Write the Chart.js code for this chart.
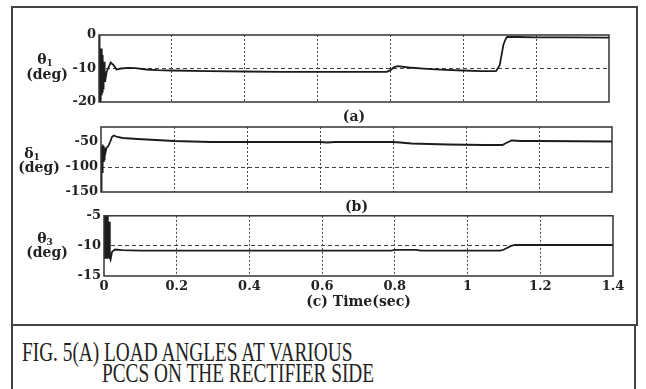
<!DOCTYPE html>
<html>
<head>
<meta charset="utf-8">
<script src="https://cdn.jsdelivr.net/npm/chart.js@4.4.0/dist/chart.umd.min.js"></script>
<style>
  body { margin: 0; background: #fff; }
  #wrap { position: relative; width: 646px; height: 389px; overflow: hidden; background: #fff; }
  .box { position: absolute; border: 2px solid #444; box-sizing: border-box; }
  canvas { position: absolute; left: 0; }
  .lab { position: absolute; width: 60px; text-align: center; font: bold 14px "DejaVu Serif", serif; line-height: 14px; color: #222; }
  .lab sub { font-size: 9px; vertical-align: -2px; }
  .cap { position: absolute; font: 27px "Liberation Serif", "Times New Roman", serif; line-height: 27px; color: #222;
         white-space: nowrap; transform-origin: 0 0; transform: scaleX(0.715); }
</style>
</head>
<body>
<div id="wrap">
  <div class="box" style="left:11px;top:6px;width:627px;height:320px"></div>
  <div class="box" style="left:11px;top:324px;width:625px;height:90px"></div>

  <canvas id="chartA" width="646" height="106" style="top:20px"></canvas>
  <canvas id="chartB" width="646" height="101" style="top:115px"></canvas>
  <canvas id="chartC" width="646" height="106" style="top:205px"></canvas>

  <div class="lab" style="left:15px;top:52px">θ<sub>1</sub></div>
  <div class="lab" style="left:17px;top:67px">(deg)</div>
  <div class="lab" style="left:2px;top:146px">δ<sub>1</sub></div>
  <div class="lab" style="left:9px;top:160px">(deg)</div>
  <div class="lab" style="left:15px;top:231px">θ<sub>3</sub></div>
  <div class="lab" style="left:17px;top:245px">(deg)</div>

  <div class="cap" style="left:22px;top:339px">FIG. 5(A) LOAD ANGLES AT VARIOUS</div>
  <div class="cap" style="left:102px;top:360px">PCCS ON THE RECTIFIER SIDE</div>
</div>

<script>
// time axis ticks (sec)
const xTicks = [0, 0.2, 0.4, 0.6, 0.8, 1.0, 1.2, 1.4];

// (a) theta1, deg
const timeA = [0, 0.001, 0.002, 0.003, 0.004, 0.005, 0.006, 0.007, 0.008, 0.009, 0.010, 0.011, 0.012, 0.013,
  0.014, 0.015, 0.016, 0.018, 0.021, 0.025, 0.032, 0.04, 0.048, 0.06, 0.08, 0.1, 0.13, 0.16, 0.2, 0.3, 0.4,
  0.5, 0.6, 0.7, 0.79, 0.8, 0.81, 0.82, 0.85, 0.9, 0.95, 1.0, 1.05, 1.09, 1.1, 1.105, 1.11, 1.115, 1.12,
  1.15, 1.2, 1.3, 1.4];
const theta1 = [0, -20, -3, -19, -5, -20, -4, -18, -7, -17, -6, -16, -9, -15, -8, -14, -12, -13, -11, -10,
  -8.2, -9.0, -10.3, -10.0, -9.8, -9.9, -10.3, -10.5, -10.6, -10.8, -10.9, -11.0, -11.0, -11.0, -11.0,
  -10.5, -9.6, -9.3, -9.7, -10.1, -10.4, -10.6, -10.8, -10.8, -9.0, -6.0, -3.0, -1.5, -0.6, -0.6, -0.7,
  -0.7, -0.8];
const yTicksA = [-20, -10, 0];

// (b) delta1, deg
const timeB = [0, 0.001, 0.002, 0.003, 0.004, 0.005, 0.006, 0.007, 0.008, 0.009, 0.010, 0.012, 0.015,
  0.02, 0.025, 0.03, 0.035, 0.045, 0.06, 0.08, 0.1, 0.15, 0.2, 0.25, 0.3, 0.5, 0.6, 0.62, 0.64, 0.8,
  0.82, 0.85, 0.9, 0.95, 1.0, 1.05, 1.1, 1.11, 1.125, 1.15, 1.2, 1.3, 1.4];
const delta1 = [-60, -150, -60, -110, -55, -95, -58, -90, -60, -85, -62, -72, -62, -58, -50, -40, -37,
  -40, -42, -43, -44, -46, -48, -49, -50, -50, -50, -51, -50, -50, -51, -53, -54, -55, -55.5, -56, -56,
  -52, -47, -48, -48, -48.5, -49];
const yTicksB = [-150, -100, -50];

// (c) theta3, deg
const timeC = [0, 0.001, 0.002, 0.003, 0.004, 0.005, 0.006, 0.007, 0.008, 0.009, 0.010, 0.011, 0.012,
  0.013, 0.014, 0.016, 0.018, 0.022, 0.03, 0.05, 0.1, 0.3, 0.5, 0.7, 0.79, 0.8, 0.82, 0.86, 0.87, 0.9,
  1.0, 1.09, 1.1, 1.12, 1.13, 1.2, 1.3, 1.4];
const theta3 = [-5, -12, -5, -12, -5, -12, -5, -12, -5, -12, -5, -12, -6, -12, -6, -12, -12.3, -11.0,
  -10.6, -10.7, -10.8, -10.8, -10.8, -10.8, -10.8, -10.65, -10.65, -10.65, -10.8, -10.8, -10.8, -10.8,
  -10.6, -10.0, -9.85, -9.85, -9.85, -9.85];
const yTicksC = [-15, -10, -5];

const tickFont = { family: "'DejaVu Serif', serif", size: 13, weight: 'bold' };
const titleFont = { family: "'DejaVu Serif', serif", size: 14, weight: 'bold' };

// closed frame round the plot area
const frame = {
  id: 'frame',
  afterDatasetsDraw(chart) {
    const a = chart.chartArea, c = chart.ctx;
    c.save();
    c.strokeStyle = '#333';
    c.lineWidth = 1.5;
    c.setLineDash([]);
    c.strokeRect(a.left, a.top, a.right - a.left, a.bottom - a.top);
    c.restore();
  }
};

function panel(id, times, values, yTicks, cfg) {
  return new Chart(document.getElementById(id), {
    type: 'line',
    data: {
      datasets: [{
        data: times.map((t, i) => ({ x: t, y: values[i] })),
        borderColor: '#1c1c1c',
        borderWidth: 1.8,
        pointRadius: 0,
        tension: 0,
        fill: false
      }]
    },
    plugins: [frame],
    options: {
      responsive: false,
      animation: false,
      events: [],
      layout: { padding: { top: cfg.padTop, right: 646 - cfg.right, left: 0, bottom: 0 } },
      plugins: { legend: { display: false }, tooltip: { enabled: false } },
      scales: {
        x: {
          type: 'linear',
          min: 0,
          max: 1.4,
          afterBuildTicks: ax => { ax.ticks = xTicks.map(v => ({ value: v })); },
          afterFit: ax => { ax.height = cfg.xHeight; },
          grid: {
            color: c => (c.index === 0 || c.index === xTicks.length - 1) ? 'transparent' : '#444',
            lineWidth: 1,
            drawTicks: false
          },
          border: { display: false, dash: [2, 2] },
          ticks: {
            display: cfg.showX,
            color: '#222',
            font: tickFont,
            padding: 3,
            maxRotation: 0,
            autoSkip: false,
            callback: v => String(+v.toFixed(1))
          },
          title: { display: true, text: cfg.xTitle, color: '#222', font: titleFont, padding: { top: 0, bottom: 0 } }
        },
        y: {
          min: yTicks[0],
          max: cfg.yMax,
          afterBuildTicks: ax => { ax.ticks = yTicks.map(v => ({ value: v })); },
          afterFit: ax => { ax.width = cfg.left; },
          grid: {
            color: c => c.index === 1 ? '#444' : 'transparent',
            lineWidth: 1,
            drawTicks: false
          },
          border: { display: false, dash: [4, 3] },
          ticks: { color: '#222', font: tickFont, padding: 3, callback: v => String(v) }
        }
      }
    }
  });
}

panel('chartA', timeA, theta1, yTicksA,
  { padTop: 15, xHeight: 24, left: 99, right: 609, yMax: 0, showX: false, xTitle: '(a)' });
panel('chartB', timeB, delta1, yTicksB,
  { padTop: 12, xHeight: 24, left: 101, right: 612, yMax: -20, showX: false, xTitle: '(b)' });
panel('chartC', timeC, theta3, yTicksC,
  { padTop: 10, xHeight: 35, left: 104, right: 613, yMax: -5, showX: true, xTitle: '(c) Time(sec)' });
</script>
</body>
</html>
